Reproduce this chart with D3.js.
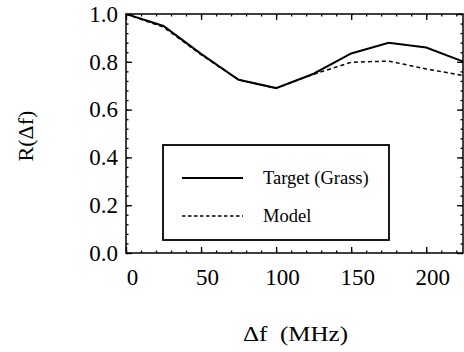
<!DOCTYPE html>
<html>
<head>
<meta charset="utf-8">
<script src="https://cdn.jsdelivr.net/npm/d3@7"></script>
<style>
  body { margin: 0; background: #fff; }
</style>
</head>
<body>
<script>
// values
const freq = [0, 25, 50, 75, 100, 125, 150, 175, 200, 225];
const target = [1.0, 0.95, 0.833, 0.725, 0.69, 0.75, 0.835, 0.88, 0.86, 0.80];
const model = [1.0, 0.945, 0.83, 0.725, 0.69, 0.748, 0.798, 0.803, 0.77, 0.742];
const xTicks = [0, 50, 100, 150, 200];
const yTicks = [0.0, 0.2, 0.4, 0.6, 0.8, 1.0];
const legendLabels = ["Target (Grass)", "Model"];

const serif = "'Liberation Serif', serif";
const width = 464, height = 352;
const margin = { top: 14, right: 1, bottom: 99, left: 126 };

const svg = d3.select("body").append("svg")
  .attr("width", width)
  .attr("height", height)
  .style("font-family", serif);

const x = d3.scaleLinear()
  .domain([0, 224.5])
  .range([margin.left, width - margin.right]);

const y = d3.scaleLinear()
  .domain([0, 1])
  .range([height - margin.bottom, margin.top]);

svg.append("clipPath").attr("id", "clip")
  .append("rect")
  .attr("x", margin.left).attr("y", margin.top)
  .attr("width", width - margin.right - margin.left)
  .attr("height", height - margin.bottom - margin.top);

// inward ticks on all four sides, minor ticks every 10 / 0.04
const xMinor = d3.range(0, 225, 10);
const yMinor = d3.range(0, 1.001, 0.04);

function styleAxis(g) {
  g.attr("font-family", null);
  g.select(".domain").remove();
  g.selectAll(".tick line").attr("stroke", "#000").attr("stroke-width", 1.3);
  g.selectAll(".tick text").style("font-family", serif).attr("fill", "#000");
}

const bottom = svg.append("g")
  .attr("transform", `translate(0,${y(0)})`)
  .call(d3.axisBottom(x).tickValues(xTicks).tickSize(-6).tickPadding(16).tickFormat(d3.format("d")))
  .call(styleAxis);
bottom.selectAll(".tick text")
  .attr("font-size", 23)
  .attr("dx", 6);

svg.append("g")
  .attr("transform", `translate(0,${y(0)})`)
  .call(d3.axisBottom(x).tickValues(xMinor).tickSize(-2.5).tickFormat(""))
  .call(styleAxis);

svg.append("g")
  .attr("transform", `translate(0,${y(1)})`)
  .call(d3.axisTop(x).tickValues(xTicks).tickSize(-6).tickFormat(""))
  .call(styleAxis);
svg.append("g")
  .attr("transform", `translate(0,${y(1)})`)
  .call(d3.axisTop(x).tickValues(xMinor).tickSize(-2.5).tickFormat(""))
  .call(styleAxis);

const left = svg.append("g")
  .attr("transform", `translate(${x(0)},0)`)
  .call(d3.axisLeft(y).tickValues(yTicks).tickSize(-6).tickPadding(8).tickFormat(d3.format(".1f")))
  .call(styleAxis);
left.selectAll(".tick text")
  .attr("font-size", 23);

svg.append("g")
  .attr("transform", `translate(${x(0)},0)`)
  .call(d3.axisLeft(y).tickValues(yMinor).tickSize(-2.5).tickFormat(""))
  .call(styleAxis);

svg.append("g")
  .attr("transform", `translate(${width - margin.right},0)`)
  .call(d3.axisRight(y).tickValues(yTicks).tickSize(-6).tickFormat(""))
  .call(styleAxis);
svg.append("g")
  .attr("transform", `translate(${width - margin.right},0)`)
  .call(d3.axisRight(y).tickValues(yMinor).tickSize(-2.5).tickFormat(""))
  .call(styleAxis);

// frame
svg.append("rect")
  .attr("x", margin.left).attr("y", margin.top)
  .attr("width", width - margin.right - margin.left)
  .attr("height", height - margin.bottom - margin.top)
  .attr("fill", "none")
  .attr("stroke", "#000")
  .attr("stroke-width", 1.5);

const line = d3.line()
  .x((d, i) => x(freq[i]))
  .y(d => y(d));

svg.append("path")
  .datum(model)
  .attr("clip-path", "url(#clip)")
  .attr("fill", "none")
  .attr("stroke", "#000")
  .attr("stroke-width", 1.5)
  .attr("stroke-dasharray", "4,3")
  .attr("d", line);

svg.append("path")
  .datum(target)
  .attr("clip-path", "url(#clip)")
  .attr("fill", "none")
  .attr("stroke", "#000")
  .attr("stroke-width", 2)
  .attr("d", line);

// legend
const legend = svg.append("g");
legend.append("rect")
  .attr("x", 163).attr("y", 145)
  .attr("width", 226).attr("height", 95)
  .attr("fill", "#fff")
  .attr("stroke", "#000")
  .attr("stroke-width", 1.8);

legendLabels.forEach((label, i) => {
  const ly = 178 + i * 38;
  legend.append("line")
    .attr("x1", 182).attr("x2", 243)
    .attr("y1", ly).attr("y2", ly)
    .attr("stroke", "#000")
    .attr("stroke-width", i === 0 ? 2 : 1.3)
    .attr("stroke-dasharray", i === 0 ? null : "3.5,2.5");
  legend.append("text")
    .attr("x", 263).attr("y", ly + 6)
    .attr("font-size", 18.5)
    .style("font-family", serif)
    .text(label);
});

// axis titles
svg.append("text")
  .attr("x", 243)
  .attr("y", 341)
  .attr("font-size", 22)
  .attr("textLength", 105)
  .attr("lengthAdjust", "spacingAndGlyphs")
  .attr("xml:space", "preserve")
  .style("font-family", serif)
  .text("\u0394f  (MHz)");

svg.append("text")
  .attr("transform", "translate(33,136) rotate(-90)")
  .attr("text-anchor", "middle")
  .attr("font-size", 22)
  .style("font-family", serif)
  .text("R(\u0394f)");
</script>
</body>
</html>
